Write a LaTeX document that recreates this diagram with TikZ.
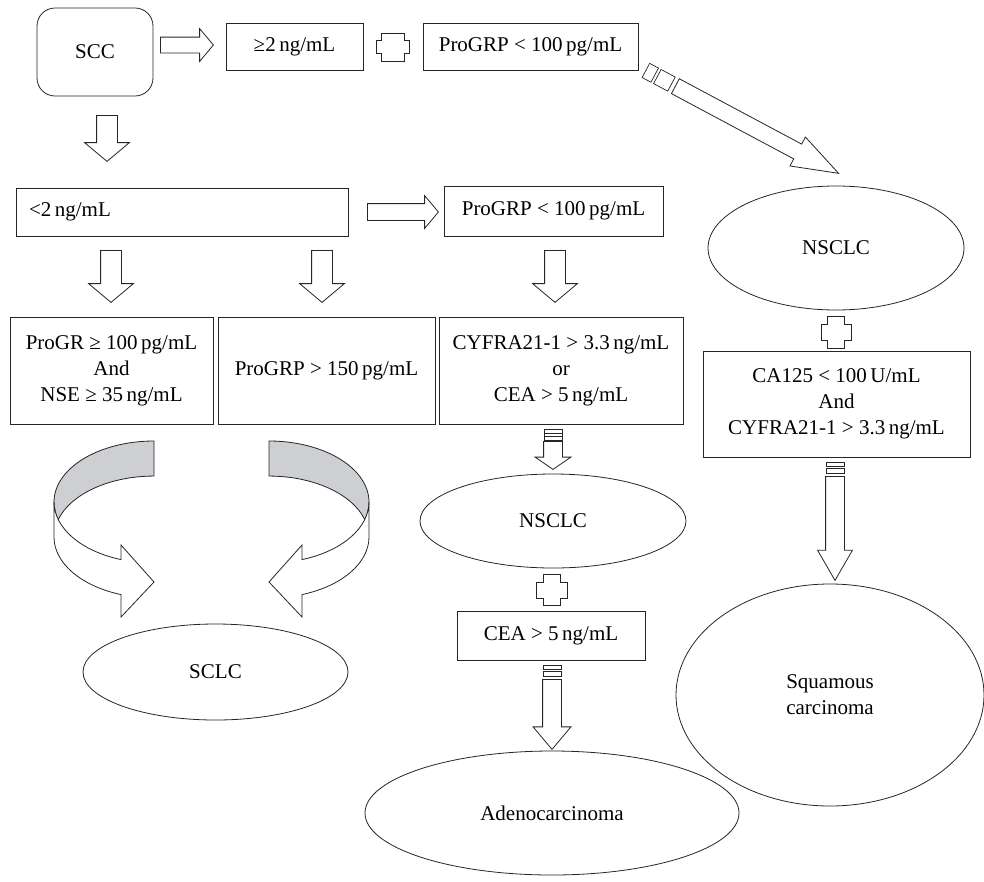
\documentclass[tikz,border=0pt]{standalone}
\usepackage{fontspec}
\setmainfont{Liberation Serif}
\usepackage{xcolor}
\usepackage{tikz}
\usetikzlibrary{shapes.geometric,shapes.arrows}
\definecolor{ribbongray}{RGB}{205,207,210}

\begin{document}
\begin{tikzpicture}[x=1pt, y=-1pt, line width=0.8pt,
  txt/.style={font=\fontsize{21}{26}\selectfont, align=center, inner sep=0pt},
  tbox/.style={txt, rectangle, draw=black!85, fill=white},
  roundbox/.style={tbox, rounded corners=18pt},
  oval/.style={txt, ellipse, draw=black!85, fill=white},
  barrow/.style n args={4}{single arrow, anchor=tail, draw=black!85, fill=white, inner xsep=0pt, inner ysep=#2, single arrow head indent=0pt, minimum height=#1, single arrow head extend=#3, single arrow tip angle=#4},
  stripe/.style={draw=black!85, fill=white, line width=0.7pt},
  pics/plusmark/.style n args={4}{code={
    \draw[draw=black!85, fill=white] (-#3/2,-#2/2) -- (#3/2,-#2/2) -- (#3/2,-#4/2) -- (#1/2,-#4/2) -- (#1/2,#4/2) -- (#3/2,#4/2) -- (#3/2,#2/2) -- (-#3/2,#2/2) -- (-#3/2,#4/2) -- (-#1/2,#4/2) -- (-#1/2,-#4/2) -- (-#3/2,-#4/2) -- cycle;
  }}
]
\useasboundingbox (0,0) rectangle (984,881);

% boxes and ovals
\node[roundbox, minimum width=116pt, minimum height=88pt] (scc) at (95,52) {SCC};
\node[tbox, minimum width=137pt, minimum height=47pt] (ge2) at (294.5,46.5) {≥2\,ng/mL};
\node[tbox, minimum width=215pt, minimum height=47pt] (pgrpA) at (530.5,46.5) {ProGRP < 100\,pg/mL};
\node[tbox, minimum width=332pt, minimum height=48pt, text width=306pt, align=left] (lt2) at (182,212) {<2\,ng/mL};
\node[tbox, minimum width=219pt, minimum height=50pt] (pgrpB) at (553.5,211) {ProGRP < 100\,pg/mL};
\node[tbox, minimum width=203pt, minimum height=107pt] (nse) at (111.5,370.5) {ProGR ≥ 100\,pg/mL\\And\\NSE ≥ 35\,ng/mL};
\node[tbox, minimum width=217pt, minimum height=107pt] (pgrpC) at (326.5,370.5) {ProGRP > 150\,pg/mL};
\node[tbox, minimum width=244pt, minimum height=107pt] (cyfra) at (561,370.5) {CYFRA21-1 > 3.3\,ng/mL\\or\\CEA > 5\,ng/mL};
\node[oval, minimum width=266pt, minimum height=94pt] (nsclcM) at (553,521) {NSCLC};
\node[tbox, minimum width=188pt, minimum height=49pt] (cea) at (551,635.5) {CEA > 5\,ng/mL};
\node[oval, minimum width=374pt, minimum height=124pt] (adeno) at (552,813) {Adenocarcinoma};
\node[oval, minimum width=265pt, minimum height=96pt] (sclc) at (215.5,672) {SCLC};
\node[oval, minimum width=256pt, minimum height=124pt] (nsclcR) at (836,248) {NSCLC};
\node[tbox, minimum width=267pt, minimum height=106pt] (ca125) at (836.5,404) {CA125 < 100\,U/mL\\And\\CYFRA21-1 > 3.3\,ng/mL};
\node[oval, minimum width=308pt, minimum height=222pt] (squam) at (830,695) {Squamous\\carcinoma};

% block arrows (placed at their tails)
\node[barrow={53pt}{7.5pt}{8.5pt}{100}] (sccR) at (160,45) {};
\node[barrow={46pt}{10pt}{12pt}{100}, rotate=-90] (sccD) at (107,115) {};
\node[barrow={71pt}{8pt}{8pt}{100}] (ltR) at (367,212) {};
\node[barrow={52pt}{10pt}{12pt}{100}, rotate=-90] (ltD1) at (111,250) {};
\node[barrow={52pt}{10pt}{12pt}{100}, rotate=-90] (ltD2) at (322,250) {};
\node[barrow={52pt}{10pt}{12pt}{100}, rotate=-90] (pgD) at (555,250) {};
\node[barrow={28pt}{9pt}{8.5pt}{111}, rotate=-90] (cyD) at (553,441) {};
\node[barrow={70pt}{9pt}{9.5pt}{80}, rotate=-90] (ceaD) at (552,679) {};
\node[barrow={104pt}{9pt}{8pt}{60}, rotate=-90] (caD) at (835,476) {};
\node[barrow={185pt}{8pt}{8pt}{39}, rotate=-28.1] (toR) at (675,86) {};

% broken tails
\node[stripe, rectangle, inner sep=0pt, minimum width=16pt, minimum height=16pt, rotate=-28.1] at (664.4,80.3) {};
\node[stripe, rectangle, inner sep=0pt, minimum width=10pt, minimum height=16pt, rotate=-28.1] at (650.3,72.8) {};
\draw[stripe] (544,429) rectangle (562,440);
\draw[stripe] (544,433) -- (562,433) (544,436.5) -- (562,436.5);
\draw[stripe] (543,665) rectangle (561,669);
\draw[stripe] (543,671) rectangle (561,676);
\draw[stripe] (826,462) rectangle (844,466);
\draw[stripe] (826,468) rectangle (844,473);

% plus signs
\pic at (393,47) {plusmark={33}{28}{23}{13}};
\pic at (552,590) {plusmark={31}{31}{17}{16}};
\pic at (836,332) {plusmark={30}{32}{17}{16}};

% curved ribbon arrows into SCLC
\foreach \m in {1,-1}{
  \begin{scope}[shift={({(1-\m)*211.5},0)}, xscale=\m]
    \filldraw[draw=black!85, fill=ribbongray] (154,441) arc[start angle=270, end angle=163.3, x radius=100, y radius=61]
      arc[start angle=196.7, end angle=270, x radius=100, y radius=61] -- cycle;
    \draw[draw=black!85, fill=white] (54,502) -- (54,537) arc[start angle=180, end angle=109.3, x radius=100, y radius=61]
      -- (121,617) -- (154,582) -- (121,545) -- (121,559.6)
      arc[start angle=109.3, end angle=180, x radius=100, y radius=61] -- cycle;
  \end{scope}
}
\end{tikzpicture}
\end{document}
